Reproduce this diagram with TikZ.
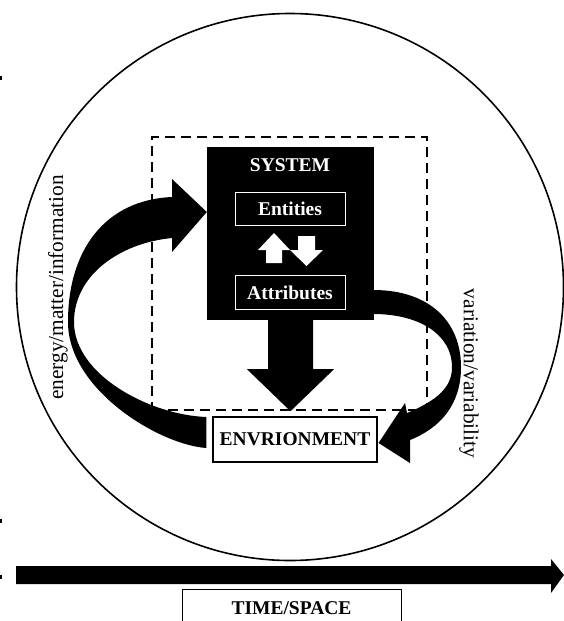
\documentclass[tikz,border=0pt]{standalone}
\usepackage{fontspec}
\setmainfont{Liberation Serif}
\usepackage{tikz}
\usetikzlibrary{positioning}
\usetikzlibrary{calc}

\begin{document}
\begin{tikzpicture}[x=1pt, y=-1pt]
        \tikzstyle{caja} = [draw, rectangle, line width=1.1pt, inner sep=0pt, font=\bfseries\fontsize{19.5}{20}\selectfont]
        \tikzstyle{cajablanca} = [caja, draw=white, line width=1pt, text=white, minimum width=110pt, minimum height=33.5pt]
        \tikzstyle{etiqueta} = [inner sep=0pt, font=\fontsize{21.3}{22}\selectfont]
        \tikzstyle{flecha} = [fill=black]
        \tikzstyle{flechablanca} = [fill=white]

        \useasboundingbox (0,0) rectangle (564,621);

        % Marcas del borde
        \foreach \y in {78, 521, 577}
            \fill (0,\y-2) rectangle (1.5,\y+2);

        % Circulo exterior
        \node[draw, circle, line width=1.6pt, minimum size=547pt, inner sep=0pt] (mundo) at (290, 287) {};

        % Limite del sistema
        \node[draw, rectangle, line width=2.3pt, dash pattern=on 10pt off 6pt, minimum width=275pt, minimum height=273pt] (limite) at (289.5, 273.5) {};

        % Sistema
        \node[fill=black, minimum width=167pt, minimum height=173pt, inner sep=0pt] (sistema) at (290.5, 233.5) {};
        \node[caja, draw=none, text=white] (titulo) at (290, 165) {SYSTEM};
        \node[cajablanca] (entidades) at (290, 209) {Entities};
        \node[cajablanca] (atributos) at (290, 292.5) {Attributes};

        % Entorno
        \node[caja, minimum width=164pt, minimum height=45pt] (entorno) at (295, 439.5) {ENVRIONMENT};

        % Flechas blancas entre entidades y atributos
        \fill[flechablanca] (266,263) -- (266,250) -- (258,250) -- (274,233) -- (290,250) -- (282,250) -- (282,263) -- cycle;
        \fill[flechablanca] (298,236) -- (298,250) -- (290,250) -- (306.5,266) -- (323,250) -- (315,250) -- (315,236) -- cycle;

        % Flecha del sistema al entorno
        \fill[flecha, shift={(sistema.south)}] (-22.5,0) -- (-22.5,49) -- (-43.5,49) -- (0,91) -- (43.5,49) -- (22.5,49) -- (22.5,0) -- cycle;

        % Flecha energy/matter/information
        \fill[flecha] ($(entorno.west)+(-6,8.5)$)
            .. controls (160,445) and (68,390) .. (68,322)
            .. controls (68,250) and (105,200) .. (172,197)
            -- (172,179) -- ($(sistema.west)+(0,-21.5)$) -- (172,252) -- (172,238)
            .. controls (120,243) and (74,275) .. (74,322)
            .. controls (74,375) and (150,415) .. ($(entorno.west)+(-6,-22.5)$)
            -- cycle;

        % Flecha variation/variability
        \fill[flecha] ($(sistema.east)+(-1,56.5)$)
            .. controls (430,290) and (461,322) .. (461,367)
            .. controls (461,405) and (440,428) .. (410,440)
            -- (410,463) -- ($(entorno.east)+(1,3.5)$) -- (405,403) -- (407,413)
            .. controls (438,400) and (452,387) .. (452,367)
            .. controls (452,335) and (420,314) .. ($(sistema.east)+(-1,80.5)$)
            -- cycle;

        % Flecha del tiempo
        \coordinate (inicio) at (16, 575);
        \coordinate (fin) at (564, 575);
        \fill[flecha] ($(inicio)+(0,-9)$) -- ($(fin)+(-13,-9)$) -- ($(fin)+(-13,-16)$) -- (fin) -- ($(fin)+(-13,18)$) -- ($(fin)+(-13,9)$) -- ($(inicio)+(0,9)$) -- cycle;
        \node[caja, line width=1pt, minimum width=219pt, minimum height=38pt] (tiempo) at (291.5, 608) {TIME/SPACE};

        % Textos de las flechas
        \node[etiqueta, rotate=90] (energia) at (58, 287.5) {energy/matter/information};
        \node[etiqueta, rotate=-90] (variacion) at (469, 373.5) {variation/variability};
    \end{tikzpicture}
\end{document}
